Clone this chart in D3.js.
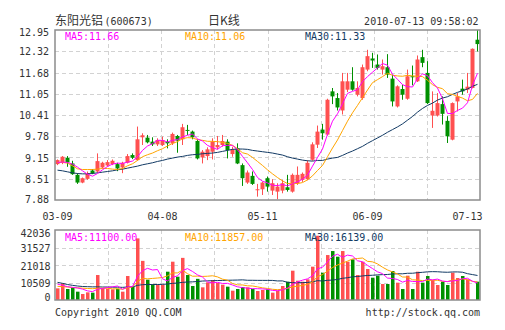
<!DOCTYPE html>
<html><head><meta charset="utf-8">
<script src="https://cdn.jsdelivr.net/npm/d3@7"></script>
<style>html,body{margin:0;padding:0;background:#fff;overflow:hidden}</style>
</head><body><svg id="c" width="505" height="330"></svg>
<script>
// ---------------- data ----------------
const stockName = "东阳光铝";
const stockCode = "(600673)";
const chartTitle = "日K线";
const stamp = "2010-07-13 09:58:02";
const priceLegend = ["MA5:11.66", "MA10:11.06", "MA30:11.33"];
const volLegend = ["MA5:11100.00", "MA10:11857.00", "MA30:16139.00"];
const footerLeft = "Copyright 2010 QQ.COM";
const footerRight = "http://stock.qq.com";

const priceTicks = [12.95, 12.32, 11.68, 11.05, 10.41, 9.78, 9.15, 8.51, 7.88];
const priceTickLabels = ["12.95","12.32","11.68","11.05","10.41","9.78","9.15","8.51","7.88"];
const volTicks = [42036, 31527, 21018, 10509, 0];
const volTickLabels = ["42036","31527","21018","10509","0"];
const xTickLabels = ["03-09","04-08","05-11","06-09","07-13"];
const xTickDay = [0, 21, 41, 62, 82];

const open = [8.95,8.99,9.14,8.97,8.63,8.40,8.51,8.76,8.73,8.85,
8.91,8.95,8.95,8.85,8.99,9.22,9.07,9.75,9.74,9.62,
9.54,9.52,9.62,9.57,9.79,9.69,9.97,9.92,9.64,9.15,
9.19,9.32,9.45,9.52,9.62,9.25,9.42,8.92,8.40,8.60,
8.18,8.20,8.53,8.16,8.13,8.16,8.26,8.13,8.38,8.48,
8.50,9.08,9.53,9.98,9.83,11.12,10.92,10.55,11.17,11.42,
11.02,10.92,11.77,12.10,11.92,11.77,11.84,11.50,10.67,11.19,
10.90,11.57,11.42,12.14,11.67,10.40,10.40,10.74,10.24,9.68,
10.82,11.20,11.17,11.22,12.66];
const high = [9.09,9.19,9.19,9.05,8.68,8.55,8.73,8.80,9.27,9.02,
9.07,9.09,8.99,9.02,9.25,9.27,10.07,9.87,9.82,9.75,
9.72,9.77,9.69,9.89,9.82,10.15,10.12,9.95,9.69,9.37,
9.45,9.72,9.79,9.82,9.69,9.47,9.57,8.97,8.76,8.73,
8.36,8.43,8.58,8.50,8.38,8.48,8.63,8.67,8.88,8.70,
9.06,9.60,10.10,10.15,10.90,11.22,11.07,11.67,11.67,11.84,
11.42,11.92,12.36,12.27,12.22,12.07,12.23,11.62,11.30,11.32,
11.77,11.89,12.19,12.36,12.02,11.12,11.07,10.97,10.38,10.79,
11.07,11.47,11.67,12.40,12.98];
const low = [8.92,8.95,8.87,8.63,8.36,8.38,8.48,8.65,8.70,8.82,
8.87,8.92,8.74,8.68,8.97,9.10,9.05,9.52,9.57,9.49,
9.49,9.49,9.42,9.52,9.29,9.52,9.82,9.69,9.09,8.97,
9.07,9.09,9.39,9.47,9.12,9.17,8.95,8.30,8.36,8.33,
7.98,8.03,8.13,8.03,7.90,8.08,8.13,8.10,8.33,8.42,
8.47,9.05,9.43,9.68,9.80,10.74,10.55,10.43,11.10,11.14,
10.97,10.87,11.72,11.82,11.77,11.62,11.52,10.67,10.64,10.87,
10.87,11.30,11.40,11.84,10.74,10.03,10.37,10.13,9.58,9.66,
10.52,11.02,11.07,11.21,12.31];
const close = [9.07,9.17,9.00,8.65,8.40,8.53,8.68,8.68,9.04,8.99,
9.01,9.05,8.82,8.99,9.19,9.14,9.69,9.81,9.60,9.54,
9.67,9.67,9.57,9.85,9.65,10.05,9.95,9.75,9.12,9.32,
9.39,9.62,9.52,9.64,9.37,9.39,8.97,8.53,8.70,8.36,
8.20,8.40,8.28,8.38,8.28,8.38,8.18,8.63,8.63,8.66,
8.99,9.54,9.92,9.87,10.87,10.97,10.64,11.42,11.42,11.17,
11.22,11.84,12.17,12.04,11.82,11.87,11.62,10.82,11.27,11.02,
11.57,11.56,12.07,11.97,10.77,10.54,10.77,10.45,9.78,10.77,
10.97,11.12,11.26,12.39,12.53];
const ma5 = [9.00,9.01,9.00,8.95,8.86,8.75,8.65,8.59,8.67,8.78,
8.88,8.95,8.98,8.97,9.01,9.04,9.17,9.36,9.49,9.56,
9.66,9.66,9.61,9.66,9.68,9.76,9.81,9.85,9.70,9.64,
9.51,9.44,9.39,9.50,9.51,9.51,9.38,9.18,8.99,8.79,
8.55,8.44,8.39,8.32,8.31,8.34,8.30,8.37,8.42,8.50,
8.62,8.89,9.15,9.40,9.84,10.23,10.45,10.75,11.06,11.12,
11.17,11.41,11.56,11.69,11.82,11.95,11.90,11.63,11.48,11.32,
11.26,11.25,11.50,11.64,11.59,11.38,11.22,10.90,10.46,10.46,
10.55,10.62,10.78,11.30,11.66];
const ma10 = [9.00,9.00,8.98,8.90,8.81,8.79,8.79,8.79,8.80,8.82,
8.82,8.80,8.79,8.82,8.90,8.96,9.06,9.17,9.23,9.28,
9.35,9.41,9.49,9.57,9.62,9.71,9.74,9.73,9.68,9.66,
9.63,9.63,9.62,9.60,9.57,9.51,9.41,9.29,9.25,9.15,
9.03,8.91,8.78,8.66,8.55,8.45,8.37,8.38,8.37,8.40,
8.48,8.60,8.76,8.91,9.17,9.43,9.67,9.95,10.23,10.48,
10.70,10.93,11.16,11.38,11.47,11.56,11.66,11.60,11.58,11.57,
11.60,11.58,11.57,11.56,11.45,11.32,11.24,11.20,11.05,11.03,
10.97,10.92,10.84,10.88,11.06];
const ma30 = [8.77,8.75,8.72,8.69,8.67,8.66,8.66,8.67,8.69,8.71,
8.73,8.75,8.78,8.80,8.83,8.86,8.89,8.93,8.96,8.99,
9.03,9.06,9.10,9.13,9.16,9.18,9.21,9.23,9.24,9.26,
9.27,9.28,9.30,9.33,9.36,9.39,9.40,9.40,9.39,9.36,
9.34,9.32,9.30,9.28,9.25,9.22,9.17,9.13,9.10,9.07,
9.05,9.04,9.06,9.06,9.10,9.13,9.15,9.21,9.28,9.34,
9.41,9.48,9.57,9.65,9.73,9.81,9.90,9.98,10.06,10.15,
10.26,10.37,10.50,10.61,10.70,10.77,10.86,10.92,10.96,11.03,
11.09,11.14,11.19,11.27,11.33];
const volume = [7000,10000,6600,7600,5000,3600,4600,4400,15000,7000,
6800,6400,6800,5000,14400,8000,37000,23500,12200,9400,
9300,9200,17000,23000,14000,25300,15000,8400,12700,7600,
10600,12000,10200,9200,8000,5600,6600,7800,7600,6600,
5400,6000,6400,4400,5600,8400,11000,17600,11600,11000,
12400,20000,38600,16400,27000,29400,26000,29400,23000,24400,
15000,23000,18600,13400,14600,9600,9600,17400,10400,6600,
14600,6600,17000,10400,14400,12000,9000,11000,9000,16400,
13200,14400,12400,0,11000];
const vma5 = [9500,8800,8000,7600,7240,6560,5480,5040,6520,6920,
7560,7920,8400,6400,7880,8120,14240,17580,19020,18020,
18280,12720,11420,13580,14500,17700,18860,17140,15080,13800,
10860,10260,10620,9920,10000,9000,7920,7440,7120,6840,
6800,6680,6400,5760,5560,6160,7160,9400,10840,11920,
12720,14520,18720,19680,22880,26280,27480,25640,26960,26440,
23560,22960,20800,18880,16920,15840,13160,12920,12320,10720,
11720,11120,11040,11040,12600,12080,12560,11360,11080,11480,
11720,12800,13080,11280,10200];
const vma10 = [8200,8000,7800,7500,7300,7100,6900,6800,7000,7080,
7060,6700,6720,6460,7400,7840,11080,12990,12710,12950,
13200,13480,14500,16300,16260,17990,15790,14280,14330,14150,
14280,14560,13880,12500,11900,9930,9090,9030,8520,8420,
7900,7300,6920,6440,6200,6480,6920,7900,8300,8740,
9440,10840,14060,15260,17400,19500,21000,22180,23320,24660,
24920,25220,23220,22920,21680,19700,18060,16860,15600,13820,
13780,12140,11980,11680,11660,11900,11840,11200,11060,12040,
11900,12680,12220,11180,10840];
const vma30 = [10600,10000,9300,8800,8400,8100,8000,7900,7900,7800,
7800,7700,7700,7600,7800,7800,8800,9200,9300,9300,
9300,9400,9600,10000,10200,10600,10800,10900,11100,11390,
11510,11580,11700,11750,11850,11920,11990,12100,11850,11840,
11790,11780,11770,11750,11450,11470,10600,10400,10380,10440,
10540,10900,11620,11400,11830,11970,12340,13040,13380,13940,
14090,14450,14730,14870,15090,15230,15330,15650,15740,15740,
16050,16070,16420,16620,16910,17030,16970,16750,16660,16840,
16870,16680,15810,15260,14730];

// ---------------- drawing ----------------
const svg = d3.select('#c');
const L = 55, R = 480, PT = 30, PB = 200, VT = 230, VB = 300;
const mono = "'DejaVu Sans Mono', 'Liberation Mono', monospace";
const cjk = "'Noto Sans CJK SC', sans-serif";
const textCol = '#333';
const upCol = '#ff5050', downCol = '#009000';
const maCols = ['#ff00ff', '#ffa500', '#123a64'];

svg.append('rect').attr('width', 505).attr('height', 330).attr('fill', '#fff');

const days = d3.range(close.length);
const x = d3.scaleBand().domain(days).range([L, R]).padding(0);
const xc = i => x(i) + x.bandwidth() / 2;
const y = d3.scaleLinear().domain([7.88, 12.95]).range([PB, PT]);
const yv = d3.scaleLinear().domain([0, 42036]).range([VB, VT]);
const gx = d3.scaleLinear().domain([0, 8]).range([L, R]);

const defs = svg.append('defs');
defs.append('clipPath').attr('id', 'cp').append('rect').attr('x', L).attr('y', PT).attr('width', R - L).attr('height', PB - PT);
defs.append('clipPath').attr('id', 'cv').append('rect').attr('x', L).attr('y', VT).attr('width', R - L).attr('height', VB - VT);

function grid(top, bottom, ticks, scale) {
  const g = svg.append('g').attr('stroke', '#d2d2d2').attr('stroke-dasharray', '4,3').attr('stroke-width', 1);
  g.selectAll('line.h').data(ticks.slice(1, -1)).join('line')
    .attr('x1', L).attr('x2', R)
    .attr('y1', d => Math.round(scale(d)) + 0.5).attr('y2', d => Math.round(scale(d)) + 0.5);
  g.selectAll('line.v').data(d3.range(1, 8)).join('line').attr('class', 'v')
    .attr('x1', d => Math.round(gx(d)) + 0.5).attr('x2', d => Math.round(gx(d)) + 0.5)
    .attr('y1', top).attr('y2', bottom);
}
grid(PT, PB, priceTicks, y);
grid(VT, VB, volTicks, yv);

// price axis labels
const pAxis = svg.append('g').attr('transform', `translate(${L},0)`)
  .call(d3.axisLeft(y).tickValues(priceTicks).tickFormat((d, i) => priceTickLabels[i]).tickSize(0).tickPadding(6));
pAxis.select('.domain').remove();
pAxis.selectAll('text').attr('font-family', mono).attr('font-size', 10).attr('fill', textCol)
  .attr('dy', (d, i) => i === 0 ? '0.55em' : (i === priceTicks.length - 1 ? '0.22em' : '0.36em'));

const vAxis = svg.append('g').attr('transform', `translate(${L},0)`)
  .call(d3.axisLeft(yv).tickValues(volTicks).tickFormat((d, i) => volTickLabels[i]).tickSize(0).tickPadding(4.5));
vAxis.select('.domain').remove();
vAxis.selectAll('text').attr('font-family', mono).attr('font-size', 10).attr('fill', textCol)
  .attr('dy', (d, i) => i === 0 ? '0.66em' : (i === volTicks.length - 1 ? '0.06em' : '0.4em'));

// x labels
svg.append('g').selectAll('text').data(xTickLabels).join('text')
  .attr('x', (d, k) => xc(xTickDay[k])).attr('y', 220)
  .attr('text-anchor', 'middle').attr('font-family', mono).attr('font-size', 10).attr('fill', textCol)
  .text(d => d);

// candles
const cg = svg.append('g').attr('clip-path', 'url(#cp)');
const isUp = i => close[i] >= open[i];
cg.selectAll('line').data(days).join('line')
  .attr('x1', i => xc(i)).attr('x2', i => xc(i))
  .attr('y1', i => y(high[i])).attr('y2', i => y(low[i]))
  .attr('stroke', i => isUp(i) ? upCol : downCol).attr('stroke-width', 1);
cg.selectAll('rect').data(days).join('rect')
  .attr('x', i => x(i) + 0.5).attr('width', 4)
  .attr('y', i => y(Math.max(open[i], close[i])))
  .attr('height', i => Math.max(1, Math.abs(y(open[i]) - y(close[i]))))
  .attr('fill', i => isUp(i) ? upCol : downCol);

const line = (arr, sc) => d3.line().x((d, i) => xc(i)).y(d => sc(d))(arr);
[ma30, ma10, ma5].forEach((arr, k) => {
  cg.append('path').attr('d', line(arr, y)).attr('fill', 'none')
    .attr('stroke', maCols[2 - k]).attr('stroke-width', 1);
});

// volume
const vg = svg.append('g').attr('clip-path', 'url(#cv)');
vg.selectAll('rect').data(days).join('rect')
  .attr('x', i => x(i) + 1).attr('width', 3.5)
  .attr('y', i => yv(volume[i])).attr('height', i => yv(0) - yv(volume[i]))
  .attr('fill', i => isUp(i) ? upCol : downCol);
[vma30, vma10, vma5].forEach((arr, k) => {
  vg.append('path').attr('d', line(arr, yv)).attr('fill', 'none')
    .attr('stroke', maCols[2 - k]).attr('stroke-width', 1);
});

// frames
[[PT, PB], [VT, VB]].forEach(([t, b]) => {
  svg.append('rect').attr('x', L).attr('y', t).attr('width', R - L).attr('height', b - t)
    .attr('fill', 'none').attr('stroke', '#8c8c8c').attr('stroke-width', 1.5);
});

// legends
const legX = [65, 185, 305];
[[priceLegend, 40], [volLegend, 241]].forEach(([arr, yy]) => {
  svg.append('g').selectAll('text').data(arr).join('text')
    .attr('x', (d, k) => legX[k]).attr('y', yy)
    .attr('font-family', mono).attr('font-size', 10).attr('fill', (d, k) => maCols[k])
    .text(d => d);
});

// header
const t1 = svg.append('text').attr('x', L).attr('y', 25).attr('fill', textCol);
t1.append('tspan').attr('font-family', cjk).attr('font-size', 12).text(stockName);
t1.append('tspan').attr('font-family', mono).attr('font-size', 10).attr('dx', 1.5).text(stockCode);
svg.append('text').attr('x', 224).attr('y', 25).attr('text-anchor', 'middle')
  .attr('font-family', cjk).attr('font-size', 12).attr('fill', textCol).text(chartTitle);
svg.append('text').attr('x', 478.5).attr('y', 25).attr('text-anchor', 'end')
  .attr('font-family', mono).attr('font-size', 10).attr('fill', textCol).text(stamp);

// footer
svg.append('text').attr('x', L).attr('y', 316).attr('font-family', mono).attr('font-size', 10).attr('fill', textCol).text(footerLeft);
svg.append('text').attr('x', R).attr('y', 316).attr('text-anchor', 'end').attr('font-family', mono).attr('font-size', 10).attr('fill', textCol).text(footerRight);
</script>
</body></html>
